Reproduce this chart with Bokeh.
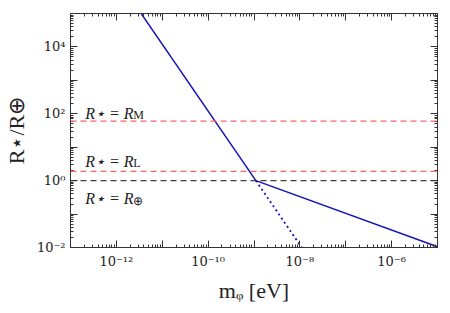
from bokeh.plotting import figure
from bokeh.models import FixedTicker, CustomJSTickFormatter, LogAxis, Span
from bokeh.core.properties import value
from bokeh.embed import file_html
from bokeh.resources import INLINE

# ---- data ----
x_exponents = list(range(-13, -4))   # decades on m_phi axis
y_exponents = list(range(-2, 6))     # decades on R axis
steep_m = [2.0e-12, 1.1e-9]
steep_R = [3.0e5, 1.0]
dotted_m = [1.1e-9, 1.25e-8]
dotted_R = [1.0, 7.7e-3]
shallow_m = [1.1e-9, 1.0e-5]
shallow_R = [1.0, 1.05e-2]
ref_subs = ["M", "L", "⊕"]
ref_R = [60.0, 1.9, 1.0]

BLUE = "#1414b4"
RED = "#ff5a5a"
DARK = "#333333"
SERIF = "Liberation Serif"
TICK_FONT = "DejaVu Serif"

p = figure(width=442, height=305, x_axis_type="log", y_axis_type="log",
           x_range=(1e-13, 1e-5), y_range=(1e-2, 1e5),
           output_backend="svg", toolbar_location=None,
           min_border_left=63, min_border_top=13, min_border_right=5, min_border_bottom=52)
p.grid.visible = False
p.outline_line_color = DARK

fmt_code = """
const e = Math.round(Math.log10(tick));
if (e % 2 !== 0) return "";
const sup = {"-":"\u207b","0":"\u2070","1":"\u00b9","2":"\u00b2","3":"\u00b3","4":"\u2074","5":"\u2075","6":"\u2076","7":"\u2077","8":"\u2078","9":"\u2079"};
return "10" + String(e).split("").map(c => sup[c]).join("");
"""

def make_ticker(exps):
    return FixedTicker(ticks=[10.0 ** e for e in exps],
                       minor_ticks=[k * 10.0 ** e for e in exps for k in range(2, 10)])

def style_axis(ax, show_labels=True):
    ax.major_tick_in = 7
    ax.major_tick_out = 0
    ax.minor_tick_in = 3
    ax.minor_tick_out = 0
    ax.axis_line_color = DARK
    ax.major_tick_line_color = DARK
    ax.minor_tick_line_color = DARK
    ax.major_label_text_font = TICK_FONT
    ax.major_label_text_font_size = "13px" if show_labels else "0px"
    ax.major_label_text_color = "#222222"
    ax.axis_label_text_font = SERIF
    ax.axis_label_text_font_style = "normal"
    ax.axis_label_text_font_size = "22px"
    ax.axis_label_text_color = "#222222"

p.xaxis.ticker = make_ticker(x_exponents)
p.yaxis.ticker = make_ticker(y_exponents)
p.xaxis.formatter = CustomJSTickFormatter(code=fmt_code)
p.yaxis.formatter = CustomJSTickFormatter(code=fmt_code)
style_axis(p.xaxis[0])
style_axis(p.yaxis[0])
p.xaxis.major_label_standoff = 6
p.yaxis.major_label_standoff = 5
p.xaxis.axis_label = "m\u1d69 [eV]"
p.yaxis.axis_label = "R\u22c6/R\u2295"
p.xaxis.axis_label_standoff = 6
p.yaxis.axis_label_standoff = 5

top = LogAxis(ticker=make_ticker(x_exponents), formatter=CustomJSTickFormatter(code="return '';"))
right = LogAxis(ticker=make_ticker(y_exponents), formatter=CustomJSTickFormatter(code="return '';"))
style_axis(top, False)
style_axis(right, False)
top.major_label_standoff = 0
right.major_label_standoff = 0
p.add_layout(top, "above")
p.add_layout(right, "right")

# reference lines
colors = [RED, RED, DARK]
for R, c in zip(ref_R, colors):
    p.add_layout(Span(location=R, dimension="width", line_color=c,
                      line_dash="6 4", line_width=1.3, line_alpha=0.95))

# curves
p.line(steep_m, steep_R, line_color=BLUE, line_width=1.5)
p.line(shallow_m, shallow_R, line_color=BLUE, line_width=1.5)
p.line(dotted_m, dotted_R, line_color=BLUE, line_width=1.8, line_dash="2 3")

# labels
label_x = 2.1e-13
offsets = [-8, -10, 18]
for sub, R, yo in zip(ref_subs, ref_R, offsets):
    p.text(x=[label_x], y=[R], text=["R\u22c6 = R"], text_font=value(SERIF),
           text_font_style="italic", text_font_size="16px", text_color="#222222",
           text_baseline="alphabetic", y_offset=yo)
    p.text(x=[label_x], y=[R], text=[sub], text_font=value(SERIF),
           text_font_size="12px", text_color="#222222",
           text_baseline="alphabetic", y_offset=yo + 2, x_offset=48)

open("out.html", "w").write(file_html(p, INLINE))
